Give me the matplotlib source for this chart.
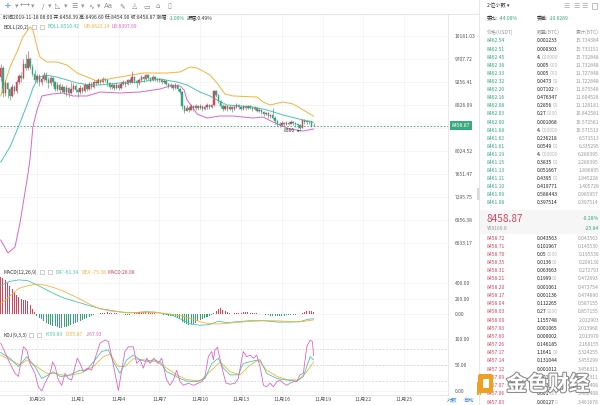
import numpy as np
import matplotlib.pyplot as plt
import matplotlib.transforms as mtransforms
import matplotlib.patheffects as pe
from matplotlib.patches import Rectangle, FancyBboxPatch
from matplotlib.lines import Line2D
from matplotlib.ticker import NullLocator

plt.rcParams['font.family'] = ['Noto Sans CJK SC', 'DejaVu Sans']

# ---------------- data: 4h candles, BTC/USDT 2019-10-26 08:00 .. 2019-11-18 08:00 ----------------
first_open = 9350.0
closes = [9520,
          9050, 9230, 9120, 9000, 9160, 9080, 9250, 9380, 9330, 9600,
          9520, 9700, 9550, 9420, 9300, 9380, 9250, 9320, 9400, 9300,
          9230, 9330, 9250, 9120, 9200, 9100, 9160, 9060, 9150, 9050,
          9120, 9180, 9100, 9060, 9150, 9080, 9200, 9130, 9220, 9170,
          9260, 9240, 9300, 9260, 9320, 9290, 9230, 9160, 9200, 9140,
          9190, 9150, 9220, 9250, 9210, 9290, 9260, 9350, 9280, 9230,
          9300, 9360, 9310, 9390, 9340, 9300, 9360, 9320, 9290, 9310,
          9260, 9280, 9220, 9180, 9200, 9150, 9190, 9130, 9060, 8800,
          8720, 8780, 8740, 8800, 8770, 8810, 8780, 8800, 8760, 8790,
          8830, 8790, 8820, 9080, 9010, 8900, 8810, 8760, 8800, 8750,
          8790, 8760, 8790, 8830, 8790, 8760, 8800, 8770, 8800, 8780,
          8750, 8770, 8720, 8740, 8690, 8660, 8680, 8620, 8640, 8600,
          8530, 8490, 8470, 8500, 8480, 8510, 8490, 8520, 8500, 8480,
          8460, 8420, 8550, 8520, 8540, 8530, 8458.39, 8458.87]
highs = [9600,
         9560, 9300, 9260, 9150, 9220, 9200, 9300, 9420, 9450, 9700,
         9800, 9870, 9750, 9600, 9480, 9420, 9420, 9380, 9450, 9440,
         9350, 9380, 9360, 9280, 9260, 9230, 9220, 9180, 9200, 9170,
         9260, 9230, 9210, 9140, 9190, 9170, 9240, 9220, 9260, 9250,
         9300, 9290, 9330, 9320, 9360, 9340, 9310, 9260, 9230, 9220,
         9230, 9210, 9250, 9290, 9270, 9320, 9330, 9470, 9380, 9300,
         9340, 9400, 9380, 9420, 9410, 9360, 9400, 9380, 9340, 9340,
         9320, 9310, 9290, 9240, 9230, 9220, 9230, 9210, 9150, 9090,
         8830, 8830, 8810, 8840, 8820, 8850, 8830, 8840, 8810, 8830,
         8860, 8850, 8850, 9110, 9100, 9030, 8910, 8840, 8830, 8820,
         8820, 8810, 8820, 8860, 8850, 8810, 8830, 8820, 8830, 8820,
         8800, 8800, 8790, 8770, 8760, 8710, 8700, 8700, 8670, 8770,
         8620, 8550, 8520, 8530, 8520, 8540, 8530, 8550, 8540, 8520,
         8500, 8480, 8580, 8570, 8560, 8560, 8540, 8496.60]
lows = [9280,
        8980, 9000, 8950, 8920, 8980, 9020, 9050, 9220, 9260, 9310,
        9480, 9490, 9500, 9380, 9250, 9230, 9180, 9200, 9280, 9260,
        9150, 9200, 9180, 9080, 9080, 9050, 9060, 9020, 9000, 8980,
        9020, 9080, 9060, 8970, 9030, 9040, 9060, 9080, 9100, 9120,
        9150, 9190, 9210, 9220, 9240, 9250, 9180, 9120, 9130, 9100,
        9120, 9110, 9130, 9190, 9170, 9200, 9220, 9240, 9240, 9150,
        9200, 9270, 9260, 9290, 9300, 9250, 9280, 9280, 9250, 9260,
        9220, 9230, 9190, 9140, 9150, 9110, 9130, 9080, 9020, 8760,
        8680, 8720, 8700, 8730, 8720, 8740, 8740, 8750, 8720, 8740,
        8760, 8760, 8770, 8800, 8980, 8870, 8780, 8720, 8740, 8720,
        8740, 8700, 8740, 8770, 8760, 8730, 8740, 8740, 8750, 8750,
        8720, 8730, 8690, 8700, 8660, 8630, 8640, 8590, 8600, 8570,
        8480, 8450, 8440, 8450, 8450, 8470, 8460, 8480, 8470, 8440,
        8420, 8366, 8410, 8480, 8490, 8490, 8430, 8454.90]

# Bollinger (20,2) lines, x in candle index
ub_x = [0, 1.9, 4.1, 7.2, 9.8, 12.9, 14.2, 16.0, 17.3, 20.4, 24.8, 29.2, 33.7, 38.1, 42.5, 52.6, 62.8,
        73.4, 79.1, 83.5, 86.6, 89.2, 92.3, 95.4, 98.9, 102.5, 113.1, 115.7, 118.8, 124.5, 128.9, 132.0, 138]
ub_v = [8992, 9237, 9548, 9849, 10160, 10372, 10308, 9952, 9748, 9647, 9647, 9588, 9430, 9352, 9275, 9352, 9430,
        9430, 9450, 9548, 9528, 9469, 9391, 9237, 9029, 8992, 8973, 8881, 8826, 8881, 8844, 8771, 8623.14]
mid_x = [0, 4.1, 8.5, 12.9, 14.2, 16.5, 19.5, 24.8, 33.7, 39.4, 43.8, 52.6, 61.4, 70.3, 77.8, 82.2, 87.9,
         92.3, 95.4, 99.8, 111.3, 117.5, 124.5, 133.3, 138]
mid_v = [7843, 8091, 8503, 8973, 9142, 9333, 9391, 9352, 9237, 9199, 9199, 9237, 9256, 9314, 9256, 9199, 9066,
         8992, 8918, 8826, 8789, 8735, 8645, 8556, 8510.42]
lb_x = [0, 3.2, 6.3, 8.5, 11.6, 12.9, 14.2, 16.0, 18.2, 22.6, 27.5, 31.9, 38.1, 43.8, 52.6, 61.4, 70.3,
        74.7, 79.1, 80.9, 82.2, 84.8, 86.6, 91.0, 96.7, 102.5, 111.3, 115.7, 121.9, 127.6, 133.3, 138]
lb_v = [6674, 6497, 6578, 6913, 7556, 7876, 8433, 8735, 8992, 9029, 9048, 8992, 8992, 9066, 9048, 9066, 9123,
        9180, 9180, 9104, 8918, 8771, 8663, 8591, 8627, 8627, 8591, 8609, 8485, 8398, 8363, 8397.69]

# MACD(12,26,9)
macd_hist = [480, 470, 440, 400, 360, 320, 280, 250, 215, 195, 180, 175, 165, 120, 70, 20,
             -20, -45, -70, -90, -110, -125, -140, -150, -160, -170, -180, -178, -172, -165, -155,
             -145, -130, -118, -105, -92, -80, -65, -52, -40, -28, -15, -5,
             5, 10, 15, 18, 20, 18, 15, 12, 8, 5, 2,
             -5, -10, -12, -10, -5,
             8, 15, 22, 25, 28, 25, 22, 18, 15, 10, 5, 2,
             -5, -10, -15, -20, -25, -30, -38, -45, -70, -100, -120, -135, -140, -135, -125, -110,
             -95, -80, -65, -50, -35, -22, -10,
             10, 40, 70, 75, 55, 35, 20, 10,
             5, 8, 12, 15, 18, 20, 22, 20, 18, 15, 12, 8, 5, 2,
             -5, -10, -15, -20, -25, -28, -30, -28, -25, -20, -18, -15, -12, -10, -8, -5,
             5, 15, 25, 35, 40, 35, 28.08]
macd_x = [0, 4, 8, 12, 16, 20, 24, 28, 32, 36, 40, 44, 48, 52, 56, 60, 64, 68, 72, 76, 80, 84, 88, 92,
          96, 100, 104, 110, 116, 122, 128, 132, 136, 138]
dif_v = [370, 420, 440, 430, 375, 315, 255, 205, 170, 135, 100, 70, 50, 31, 14, 20, 30, 25, 5, -20, -75,
         -130, -145, -137, -93, -112, -100, -86, -87, -103, -104, -98, -65, -61.34]
dea_v = [130, 230, 330, 365, 385, 370, 335, 290, 235, 175, 115, 65, 40, 28, 20, 15, 18, 18, 10, -5, -25,
         -60, -100, -125, -128, -120, -108, -95, -85, -88, -98, -100, -85, -75.38]

# KDJ(9,3,3)
k_x = [0, 4.1, 7.8, 11.5, 15.1, 18.1, 21.0, 23.2, 26.2, 29.1, 32.0, 35.0, 37.9, 40.9, 44.5, 47.5, 49.7,
       52.6, 55.6, 58.5, 61.5, 64.4, 67.3, 70.3, 73.2, 76.2, 79.1, 82.0, 86.5, 90.1, 93.1, 96.0, 98.2,
       101.2, 104.8, 107.0, 111.5, 114.4, 117.3, 121.8, 126.2, 130.6, 133.5, 136.5, 138.0]
k_v = [74, 63, 47, 66, 47, 24, 31, 37, 28, 29, 34, 40, 40, 56, 76, 79, 56, 34, 60, 69, 60, 56, 60, 56, 37,
       31, 24, 19, 18, 24, 53, 63, 44, 31, 31, 53, 58, 60, 34, 24, 21, 19, 28, 66, 59.89]
d_x = [0, 4.1, 8.5, 11.5, 15.9, 20.3, 24.0, 29.1, 35.0, 40.9, 45.3, 48.2, 51.9, 54.8, 58.5, 62.9, 68.8,
       73.2, 77.6, 82.0, 87.9, 92.3, 96.8, 101.2, 105.6, 110.0, 113.7, 117.3, 121.8, 126.2, 131.3, 135.0, 138.0]
d_v = [69, 60, 50, 60, 47, 34, 34, 29, 34, 47, 66, 71, 47, 47, 62, 60, 56, 44, 31, 22, 19, 37, 56, 37, 31,
       50, 60, 40, 28, 22, 21, 37, 55.87]
j_x = [0, 1.9, 4.1, 6.3, 7.8, 10.0, 11.5, 12.9, 15.1, 16.6, 18.1, 19.5, 21.8, 22.9, 24.0, 25.4, 26.9, 28.4,
       29.8, 31.3, 32.8, 33.8, 35.0, 36.5, 38.2, 40.1, 42.3, 43.8, 46.0, 47.5, 49.0, 50.4, 51.9, 53.4, 54.8,
       56.3, 58.5, 60.0, 61.5, 62.9, 64.4, 65.9, 67.6, 69.5, 71.0, 73.2, 74.7, 76.2, 77.6, 79.1, 80.6, 82.8,
       85.0, 87.2, 88.7, 90.1, 91.6, 93.1, 93.8, 94.5, 95.6, 96.8, 98.2, 99.4, 101.2, 103.4, 104.8, 106.3,
       107.0, 108.5, 110.0, 111.5, 112.9, 114.4, 115.9, 117.3, 118.8, 120.3, 121.8, 123.2, 124.7, 126.2,
       127.6, 129.1, 130.6, 132.0, 133.5, 135.0, 136.5, 137.5, 138.0]
j_v = [92, 74, 53, 34, 28, 85, 79, 53, 34, 8, 0, 15, 34, 56, 47, 21, 11, 34, 24, 21, 47, 63, 53, 37, 44, 40,
       72, 92, 98, 95, 66, 34, 1, 40, 76, 85, 85, 53, 60, 44, 63, 53, 63, 53, 63, 21, 11, 21, 40, 18, 11, 15,
       11, 15, 18, 28, 66, 76, 60, 79, 84, 60, 34, 15, 13, 15, 24, 60, 76, 66, 69, 63, 69, 47, 11, 8, 15, 8,
       18, 21, 15, 11, 15, 18, 18, 31, 34, 85, 98, 95, 67.93]

price_ticks = [10181.03, 9707.72, 9256.41, 8826.09, 8415.80, 8024.52, 7651.47, 7295.75, 6956.38, 6633.17]
date_idx = [16, 34, 52, 70, 88, 106, 124, 142, 160, 178]
date_labels = ['10月29', '11月1', '11月4', '11月7', '11月10', '11月13', '11月16', '11月19', '11月22', '11月25']

# order book
ask_price = [8462.54, 8462.51, 8462.45, 8462.38, 8462.33, 8462.32, 8462.20, 8462.16, 8462.08, 8462.03, 8462.00,
             8461.68, 8461.62, 8461.61, 8461.19, 8461.15, 8461.13, 8461.11, 8461.10, 8461.09, 8461.08]
ask_qty = [0.001233, 0.000303, 4.0, 0.005, 0.005, 0.0473, 0.07102, 0.476347, 0.2856, 0.27, 0.001068,
           4.0, 0.236218, 0.0549, 4.0, 0.3835, 0.051667, 0.4395, 0.419771, 0.588443, 0.397514]
ask_cum = [15.734384, 15.733151, 15.732848, 11.732848, 11.727848, 11.722848, 11.675548, 11.604528, 11.128181,
           10.842581, 10.572581, 10.571513, 6.571513, 6.335295, 6.280395, 2.280395, 1.896895, 1.845228,
           1.405728, 0.985957, 0.397514]
bid_price = [8458.72, 8458.71, 8458.70, 8458.35, 8458.31, 8458.21, 8458.20, 8458.17, 8458.04, 8458.03, 8458.00,
             8457.93, 8457.60, 8457.26, 8457.17, 8457.14, 8457.12, 8457.09, 8457.07, 8457.06, 8457.03]
bid_qty = [0.043563, 0.101967, 0.05, 0.0136, 0.063663, 0.1999, 0.001061, 0.001136, 0.112265, 0.27, 1.155748,
           0.001065, 0.000002, 0.146185, 1.1641, 0.131044, 0.001012, 0.001, 0.002097, 0.001, 0.00127]
bid_cum = [0.043563, 0.14553, 0.19553, 0.20913, 0.272793, 0.472693, 0.473754, 0.47489, 0.587155, 0.857155,
           2.012903, 2.013968, 2.01397, 2.160155, 3.324255, 3.455299, 3.456311, 3.457311, 3.459408, 3.460408,
           3.461678]

# ---------------- style ----------------
RED = '#d4455c'
GREEN = '#33a47c'
TEAL = '#4cc4ad'
ORANGE = '#f2b33d'
MAGENTA = '#dd66c4'
GRID = '#f1f1f1'
LINE = '#e4e4e4'
TXT = '#555555'
DARK = '#333333'
FS = 3.6

W, H = 600, 405
fig = plt.figure(figsize=(6, 4.05), dpi=100)
fig.patch.set_facecolor('white')
renderer = fig.canvas.get_renderer()


def rect(x0, y0, x1, y1):
    return [x0 / W, 1 - y1 / H, (x1 - x0) / W, (y1 - y0) / H]


def ftext(x, y, s, **kw):
    kw.setdefault('va', 'center')
    kw.setdefault('fontsize', FS)
    return fig.text(x / W, 1 - y / H, s, **kw)


def chain(x, y, parts, gap=0.4, **kw):
    # draw coloured pieces one after another on one line
    for s, cl in parts:
        if not s:
            continue
        t = ftext(x, y, s, color=cl, **kw)
        x = t.get_window_extent(renderer=renderer).x1 + gap
    return x


ax_k = fig.add_axes(rect(0, 14, 448, 266))
ax_m = fig.add_axes(rect(0, 266, 448, 330), sharex=ax_k)
ax_j = fig.add_axes(rect(0, 330, 448, 395), sharex=ax_k)

for ax in (ax_k, ax_m, ax_j):
    ax.set_facecolor('white')
    for s in ('left', 'top'):
        ax.spines[s].set_visible(False)
    for s in ('right', 'bottom'):
        ax.spines[s].set_color(LINE)
        ax.spines[s].set_linewidth(0.6)
    ax.yaxis.tick_right()
    ax.tick_params(axis='y', length=0, pad=5, labelsize=FS, labelcolor=TXT)
    ax.tick_params(axis='x', length=0)
    ax.set_xticks(date_idx)
    ax.grid(True, color=GRID, lw=0.5)
    ax.set_axisbelow(True)
ax_k.spines['top'].set_visible(True)
ax_k.spines['top'].set_color(LINE)
ax_k.set_xlim(-0.31, 197.3)
ax_k.tick_params(axis='x', labelbottom=False)
ax_m.tick_params(axis='x', labelbottom=False)
ax_j.set_xticklabels(date_labels)
ax_j.tick_params(axis='x', pad=1.2, labelsize=3.8, labelcolor=TXT)

# ---------------- candles + BOLL ----------------
c = np.array(closes)
o = np.array([first_open] + closes[:-1])
hi = np.array(highs)
lo = np.array(lows)
idx = np.arange(len(c))
col = np.where(c >= o, RED, GREEN)

ax_k.set_yscale('log')
ax_k.set_ylim(6324.3, 10655)
ax_k.yaxis.set_minor_locator(NullLocator())
ax_k.set_yticks(price_ticks)
ax_k.set_yticklabels([f'{p:.2f}' if i != 4 else '' for i, p in enumerate(price_ticks)])

ax_k.plot(ub_x, ub_v, color=ORANGE, lw=0.7)
ax_k.plot(mid_x, mid_v, color=TEAL, lw=0.7)
ax_k.plot(lb_x, lb_v, color=MAGENTA, lw=0.7)
ax_k.vlines(idx, lo, hi, colors=col, lw=0.45)
ax_k.bar(idx, np.abs(c - o), bottom=np.minimum(c, o), width=0.62, color=col, edgecolor=col, lw=0.3)

ax_k.axhline(c[-1], color=GREEN, lw=0.6, ls=(0, (2, 2)))
bt = mtransforms.blended_transform_factory(ax_k.transAxes, ax_k.transData)
ax_k.text(1.008, c[-1], f'{c[-1]:.2f}', transform=bt, ha='left', va='center', fontsize=FS, color='white',
          bbox=dict(boxstyle='square,pad=0.35', fc='#3ba97e', ec='none'), clip_on=False)

jl = int(np.argmin(lo))
ax_k.annotate(f'{lo[jl]:.0f}', xy=(jl, lo[jl]), xytext=(-4, 0), textcoords='offset points',
              ha='right', va='center', fontsize=FS, color=DARK,
              arrowprops=dict(arrowstyle='->', lw=0.4, color=DARK, shrinkA=0, shrinkB=0,
                              mutation_scale=3))

# ---------------- MACD ----------------
ax_m.set_ylim(-206, 619)
ax_m.set_yticks([0, 200, 400])
ax_m.set_yticklabels(['0.00', '200.00', '400.00'])
mh = np.array(macd_hist)
ax_m.bar(idx, mh, width=0.45, color=np.where(mh >= 0, RED, GREEN), lw=0)
ax_m.plot(macd_x, dif_v, color=TEAL, lw=0.6)
ax_m.plot(macd_x, dea_v, color=ORANGE, lw=0.6)

# ---------------- KDJ ----------------
ax_j.set_ylim(-7.7, 117.3)
ax_j.set_yticks([0, 50, 100])
ax_j.set_yticklabels(['0.00', '50.00', '100.00'])
for lvl in (20, 50, 80):
    ax_j.axhline(lvl, color='#d0d0d0', lw=0.5, ls=(0, (3, 2)))
ax_j.plot(d_x, d_v, color=ORANGE, lw=0.6)
ax_j.plot(k_x, k_v, color=TEAL, lw=0.6)
ax_j.plot(j_x, j_v, color=MAGENTA, lw=0.6)

# ---------------- chart header texts ----------------
tools = [(8, '✛', '#3b7dd8'), (17, '▾', '#999'), (25, '⟷', '#888'), (33, '▾', '#999'), (43, '∕', '#888'),
         (50, '▾', '#999'), (58, '◺', '#888'), (66, '▾', '#999'), (75, '☰', '#888'), (83, '▾', '#999'),
         (91, '∿', '#888'), (99, '▾', '#999'), (108, 'Aa', '#888'), (122, '✎', '#888'), (135, '◬', '#888'),
         (147, '▭', '#888'), (158, '⌂', '#888'), (169, '▯', '#888')]
for x, s, cl in tools:
    ftext(x, 6, s, ha='center', fontsize=5, color=cl, family=['DejaVu Sans'])

chain(3, 18, [('时间2019-11-18 08:00 开:8458.39 高:8496.60 低:8454.90 收:8458.87 涨幅:', DARK),
              ('-1.00%', GREEN), ('振幅:0.49%', DARK)], gap=1.5)


def header(y, name, box_x, items):
    ftext(3, y, name, color=DARK)
    for bx in box_x:
        fig.patches.append(Rectangle((bx / W, 1 - (y + 2.2) / H), 4 / W, 4.4 / H, transform=fig.transFigure,
                                     fc='white', ec='#aaaaaa', lw=0.4))
    for x, s, cl in items:
        ftext(x, y, s, color=cl)


header(27, 'BOLL(20,2)', [32, 40], [(48, f'BOLL:{mid_v[-1]:.2f}', TEAL), (83, f'UB:{ub_v[-1]:.2f}', ORANGE),
                                    (112, f'LB:{lb_v[-1]:.2f}', MAGENTA)])
header(272, 'MACD(12,26,9)', [40, 48], [(56, f'DIF:{dif_v[-1]:.2f}', TEAL), (82, f'DEA:{dea_v[-1]:.2f}', ORANGE),
                                        (108, f'MACD:{macd_hist[-1]:.2f}', RED)])
header(335, 'KDJ(9,3,3)', [29, 37], [(45, f'K:{k_v[-1]:.2f}', TEAL), (65, f'D:{d_v[-1]:.2f}', ORANGE),
                                     (86, f'J:{j_v[-1]:.2f}', MAGENTA)])

ftext(447, 400, '对数', color='#3b7dd8', fontsize=3.8)
ftext(463, 400, '自动', color='#3b7dd8', fontsize=3.8)

# separators on the right
fig.lines.append(Line2D([0, 479 / W], [1 - 14 / H] * 2, transform=fig.transFigure, color=LINE, lw=0.6))
fig.lines.append(Line2D([479 / W] * 2, [0, 1], transform=fig.transFigure, color=LINE, lw=0.6))
fig.patches.append(Rectangle((477.5 / W, 1 - 200 / H), 3 / W, 12 / H, transform=fig.transFigure,
                             fc='#d8d8d8', ec='none'))
fig.patches.append(Rectangle((476.5 / W, 1 - 395 / H), 4 / W, 13 / H, transform=fig.transFigure,
                             fc='#f0a32a', ec='none'))

# ---------------- order book ----------------
ftext(487, 6, '2位小数 ▾', color=DARK, fontsize=3.8)
for x in (567, 576, 585):
    ftext(x, 6, '☰', color='#aaaaaa', fontsize=5, ha='center', family=['DejaVu Sans'])
fig.patches.append(Rectangle((591.5 / W, 1 - 8.5 / H), 5 / W, 5 / H, transform=fig.transFigure,
                             fc='white', ec='#aaaaaa', lw=0.5))
chain(487, 18, [('委比:', DARK), ('-44.00%', GREEN)])
chain(537, 18, [('委差:', DARK), ('-10.6289', GREEN)])
ftext(487, 32, '价格(USDT)', color='#999999')
ftext(537, 32, '数量(BTC)', color='#999999')
ftext(599, 32, '累计(BTC)', color='#999999', ha='right')


def qty_text(y, q):
    s = f'{q:.6f}'
    sig = s.rstrip('0')
    chain(537, y, [(sig, '#222222'), (s[len(sig):], '#bbbbbb')], gap=0.05)


for i in range(len(ask_price)):
    y = 41 + 8.1 * i
    ftext(487, y, f'{ask_price[i]:.2f}', color=GREEN)
    qty_text(y, ask_qty[i])
    ftext(599, y, f'{ask_cum[i]:.6f}', color='#999999', ha='right')

fig.patches.append(Rectangle((480 / W, 1 - 234 / H), 120 / W, 24 / H, transform=fig.transFigure,
                             fc='#f6f6f6', ec='none', zorder=0))
ftext(486, 219, f'{c[-1]:.2f}', color=RED, fontsize=7.2)
ftext(599, 219, '-0.28%', color=GREEN, ha='right')
ftext(487, 228, '¥59169.8', color='#999999')
ftext(599, 228, '-23.84', color=GREEN, ha='right')

for i in range(len(bid_price)):
    y = 238 + 8.2 * i
    ftext(487, y, f'{bid_price[i]:.2f}', color=RED)
    qty_text(y, bid_qty[i])
    ftext(599, y, f'{bid_cum[i]:.6f}', color='#999999', ha='right')

# watermark
fig.patches.append(FancyBboxPatch((478 / W, 1 - 393 / H), 15 / W, 19 / H, transform=fig.transFigure,
                                  boxstyle='round,pad=0,rounding_size=0.004', fc='#f0a020', ec='none', zorder=5))
fig.patches.append(Rectangle((483 / W, 1 - 388 / H), 6 / W, 9 / H, transform=fig.transFigure,
                             fc='white', ec='none', zorder=6))
ftext(548, 384, '金色财经', ha='center', fontsize=15, color='white', fontweight='bold', zorder=7,
      path_effects=[pe.withStroke(linewidth=1.6, foreground='#8c8c8c')])

fig.savefig('out.png', dpi=100)
